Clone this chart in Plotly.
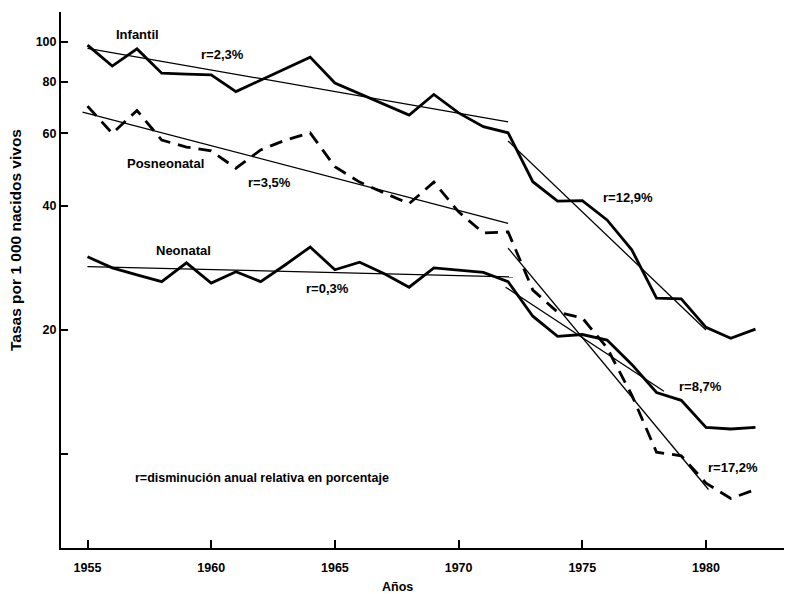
import plotly.graph_objects as go

years = list(range(1955, 1983))

infantil = [98.3, 87.4, 96.2, 84.0, 83.6, 83.2, 75.8, 80.9, 86.5, 91.9,
            79.5, 74.9, 70.6, 66.5, 74.6, 67.3, 62.3, 60.2, 45.8, 41.1,
            41.2, 37.0, 31.3, 23.9, 23.8, 20.3, 19.1, 20.1]

posneonatal = [69.9, 60.0, 68.2, 57.8, 55.6, 54.4, 49.4, 54.7, 57.8, 60.2,
               49.8, 45.7, 43.0, 40.5, 45.7, 38.7, 34.4, 34.6, 25.0, 22.1,
               21.4, 18.1, 13.9, 10.1, 9.9, 8.5, 7.8, 8.2]

neonatal = [30.1, 28.3, 27.2, 26.2, 29.1, 26.0, 27.7, 26.2, 28.8, 31.8,
            28.0, 29.2, 27.4, 25.4, 28.3, 28.0, 27.6, 26.2, 21.6, 19.3,
            19.5, 18.9, 16.5, 14.1, 13.5, 11.6, 11.5, 11.6]

# trend lines: ([start year, end year], [start value, end value])
trend_inf_1 = ([1955, 1972], [96.5, 64.0])
trend_pos_1 = ([1954.8, 1972], [67.6, 36.3])
trend_neo_1 = ([1955, 1972.2], [28.5, 26.9])
trend_inf_2 = ([1972, 1980], [57.5, 20.0])
trend_pos_2 = ([1972, 1980.1], [31.6, 8.2])
trend_neo_2 = ([1971.9, 1978.3], [25.4, 14.2])

y_tickvals = [10, 20, 40, 60, 80, 100]
y_ticktext = ["", "20", "40", "60", "80", "100"]
x_tickvals = [1955, 1960, 1965, 1970, 1975, 1980]

labels = [
    ("Infantil", 137, 35, 13),
    ("r=2,3%", 222, 54, 13),
    ("Posneonatal", 165, 164, 13),
    ("r=3,5%", 269, 182, 13),
    ("Neonatal", 183, 250, 13),
    ("r=0,3%", 327, 288, 13),
    ("r=12,9%", 628, 197, 13),
    ("r=8,7%", 700, 386, 13),
    ("r=17,2%", 733, 467, 13),
    ("r=disminución anual relativa en porcentaje", 262, 478, 12.5),
]

OFF = 8  # default page body margin
W, H = 792 - OFF, 594 - OFF
# plot area in screen pixels
SL, SR, ST, SB = 61, 785, 12, 548
L, R, T, B = SL - OFF, SR - OFF, ST - OFF, SB - OFF

FONT = "Liberation Sans, Arial, sans-serif"

fig = go.Figure()

data_line = dict(color="black", width=2.8)
trend_line = dict(color="black", width=1.3)

fig.add_trace(go.Scatter(x=years, y=infantil, mode="lines", line=data_line))
fig.add_trace(go.Scatter(x=years, y=posneonatal, mode="lines",
                         line=dict(color="black", width=2.8, dash="13px,8px")))
fig.add_trace(go.Scatter(x=years, y=neonatal, mode="lines", line=data_line))
for tx, ty in [trend_inf_1, trend_pos_1, trend_neo_1, trend_inf_2, trend_pos_2, trend_neo_2]:
    fig.add_trace(go.Scatter(x=tx, y=ty, mode="lines", line=trend_line))

px_per_year = 24.74
x0 = 1955 - (87.5 - SL) / px_per_year
x1 = 1955 + (SR - 87.5) / px_per_year
px_per_dec = 412.0
ytop = 2 + (42 - ST) / px_per_dec
ybot = 2 - (SB - 42) / px_per_dec


def to_paper(sx, sy):
    return (sx - SL) / (SR - SL), 1 - (sy - ST) / (SB - ST)


for txt, sx, sy, fs in labels:
    xp, yp = to_paper(sx, sy)
    fig.add_annotation(x=xp, y=yp, xref="paper", yref="paper", text="<b>%s</b>" % txt,
                       showarrow=False, font=dict(family=FONT, size=fs, color="black"),
                       xanchor="center", yanchor="middle")

xp, yp = to_paper(15, 240)
fig.add_annotation(x=xp, y=yp, xref="paper", yref="paper",
                   text="<b>Tasas por 1 000 nacidos vivos</b>",
                   showarrow=False, textangle=-90, font=dict(family=FONT, size=15.5, color="black"),
                   xanchor="center", yanchor="middle")
xp, yp = to_paper(397, 587)
fig.add_annotation(x=xp, y=yp, xref="paper", yref="paper", text="<b>Años</b>",
                   showarrow=False, font=dict(family=FONT, size=12.5, color="black"),
                   xanchor="center", yanchor="middle")

fig.update_layout(
    width=W, height=H,
    margin=dict(l=L, r=W - R, t=T, b=H - B, pad=0),
    paper_bgcolor="white", plot_bgcolor="white",
    showlegend=False,
    font=dict(family=FONT, size=12, color="black"),
)
fig.update_xaxes(range=[x0, x1], tickvals=x_tickvals,
                 ticktext=["<b>%d</b>" % v for v in x_tickvals],
                 ticks="inside", ticklen=8, ticklabelstandoff=7,
                 tickwidth=1.5, tickcolor="black", showline=True, linecolor="black",
                 linewidth=2, showgrid=False, zeroline=False,
                 tickfont=dict(family=FONT, size=12.5, color="black"))
fig.update_yaxes(type="log", range=[ybot, ytop], tickvals=y_tickvals,
                 ticktext=["<b>%s</b>" % t if t else "" for t in y_ticktext],
                 ticks="inside", ticklen=7, tickwidth=1.5, tickcolor="black",
                 showline=True, linecolor="black", linewidth=2, showgrid=False,
                 zeroline=False, tickfont=dict(family=FONT, size=12.5, color="black"))

fig.write_html("out.html")
